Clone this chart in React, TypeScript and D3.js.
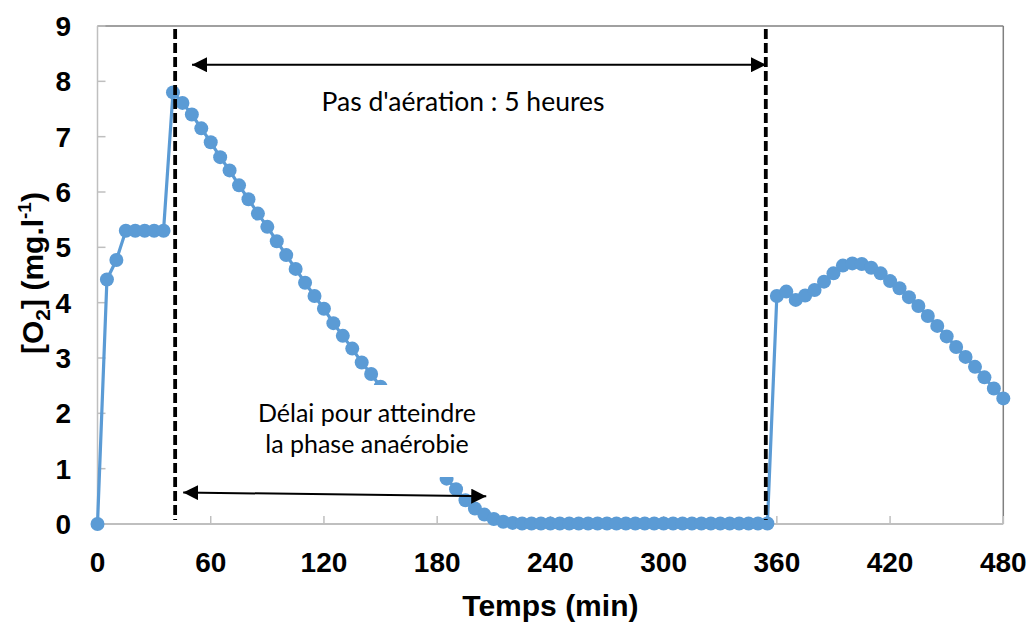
import React from "react";
import * as d3 from "d3";

const times: number[] = [
  0, 5, 10, 15, 20, 25, 30, 35, 40, 45, 50, 55, 60, 65, 70, 75, 80, 85, 90, 95,
  100, 105, 110, 115, 120, 125, 130, 135, 140, 145, 150, 155, 160, 165, 170, 175, 180, 185, 190, 195,
  200, 205, 210, 215, 220, 225, 230, 235, 240, 245, 250, 255, 260, 265, 270, 275, 280, 285, 290, 295,
  300, 305, 310, 315, 320, 325, 330, 335, 340, 345, 350, 355, 360, 365, 370, 375, 380, 385, 390, 395,
  400, 405, 410, 415, 420, 425, 430, 435, 440, 445, 450, 455, 460, 465, 470, 475, 480,
];

const o2: number[] = [
  0, 4.42, 4.77, 5.3, 5.3, 5.3, 5.3, 5.3, 7.8, 7.61, 7.4, 7.15, 6.9, 6.63, 6.39, 6.12, 5.87, 5.61, 5.37, 5.11,
  4.86, 4.61, 4.36, 4.12, 3.89, 3.63, 3.4, 3.17, 2.92, 2.71, 2.48, 2.24, 2.0, 1.76, 1.52, 1.28, 1.04, 0.82, 0.63, 0.43,
  0.28, 0.17, 0.09, 0.04, 0.02, 0.01, 0.01, 0.01, 0.01, 0.01, 0.01, 0.01, 0.01, 0.01, 0.01, 0.01, 0.01, 0.01, 0.01, 0.01,
  0.01, 0.01, 0.01, 0.01, 0.01, 0.01, 0.01, 0.01, 0.01, 0.01, 0.01, 0.01, 4.12, 4.2, 4.05, 4.13, 4.23, 4.38, 4.53, 4.67,
  4.71, 4.7, 4.63, 4.53, 4.39, 4.26, 4.1, 3.94, 3.76, 3.58, 3.39, 3.2, 3.02, 2.84, 2.65, 2.45, 2.27,
];

const xTicks: number[] = [0, 60, 120, 180, 240, 300, 360, 420, 480];
const yTicks: number[] = [0, 1, 2, 3, 4, 5, 6, 7, 8, 9];

// annotation positions in data units
const aerationStart = 43;
const aerationEnd = 356;
const topArrowY = 8.3;
const bottomArrowFrom = { t: 47, v: 0.57 };
const bottomArrowTo = { t: 206, v: 0.5 };

const W = 1032;
const H = 622;
const L = 97.5, R = 1003.3, T = 26, B = 524;

export default function App() {
  const x = d3.scaleLinear().domain([0, 480]).range([L, R]);
  const y = d3.scaleLinear().domain([0, 9]).range([B, T]);
  const pts = times.map((t, i) => [t, o2[i]] as [number, number]);
  const line = d3.line<[number, number]>().x((d) => x(d[0])).y((d) => y(d[1]));
  const axisFont = "Arial, 'Liberation Sans', sans-serif";
  const noteFont = "Lato, 'Open Sans', sans-serif";
  const blue = "#5b9bd5";

  return (
    <svg
      width={W}
      height={H}
      style={{ position: "absolute", left: 0, top: 0, background: "#fff" }}
    >
      <defs>
        <marker id="ah" viewBox="0 0 10 10" refX="10" refY="5" markerWidth="7.5" markerHeight="7.5" markerUnits="strokeWidth" orient="auto-start-reverse">
          <path d="M0,0 L10,5 L0,10 z" fill="#000" />
        </marker>
      </defs>
      <rect x={0} y={0} width={W} height={H} fill="#fff" />
      {/* plot frame */}
      <line x1={L} x2={R} y1={T} y2={T} stroke="#808080" strokeWidth={1.5} />
      <line x1={R} x2={R} y1={T} y2={B} stroke="#808080" strokeWidth={1.5} />
      <line x1={L} x2={L} y1={T} y2={B} stroke="#bfbfbf" strokeWidth={1.5} />
      <line x1={L} x2={R} y1={B} y2={B} stroke="#bfbfbf" strokeWidth={2} />
      {yTicks.map((v) => (
        <line key={"yt" + v} x1={L} x2={L + 8} y1={y(v)} y2={y(v)} stroke="#bfbfbf" strokeWidth={1.5} />
      ))}
      {xTicks.map((v) => (
        <line key={"xt" + v} x1={x(v)} x2={x(v)} y1={B} y2={B - 8} stroke="#bfbfbf" strokeWidth={1.5} />
      ))}
      {yTicks.map((v) => (
        <text key={"yl" + v} x={71} y={y(v)} dy="0.36em" textAnchor="end" fontFamily={axisFont} fontWeight="bold" fontSize={28} fill="#000">
          {v}
        </text>
      ))}
      {xTicks.map((v) => (
        <text key={"xl" + v} x={x(v)} y={572} textAnchor="middle" fontFamily={axisFont} fontWeight="bold" fontSize={28} fill="#000">
          {v}
        </text>
      ))}
      <text x={(L + R) / 2} y={616} textAnchor="middle" fontFamily={axisFont} fontWeight="bold" fontSize={30} fill="#000">
        Temps (min)
      </text>
      <text transform={`translate(43,${(T + B) / 2 - 2}) rotate(-90)`} textAnchor="middle" fontFamily={axisFont} fontWeight="bold" fontSize={30} fill="#000">
        [O<tspan dy="7" fontSize={21}>2</tspan><tspan dy="-7">] (mg.l</tspan><tspan dy="-12" fontSize={19}>-1</tspan><tspan dy="12">)</tspan>
      </text>

      {/* data */}
      <path d={line(pts) || ""} fill="none" stroke={blue} strokeWidth={3.2} />
      {pts.map((d, i) => (
        <circle key={"p" + i} cx={x(d[0])} cy={y(d[1])} r={7} fill={blue} />
      ))}

      {/* text box covering part of the series */}
      <rect x={250} y={385} width={235} height={92} fill="#fff" />
      <text x={367} y={422} textAnchor="middle" fontFamily={noteFont} fontSize={25} fill="#000">
        Délai pour atteindre
      </text>
      <text x={367} y={453} textAnchor="middle" fontFamily={noteFont} fontSize={25} fill="#000">
        la phase anaérobie
      </text>
      <text x={463} y={111} textAnchor="middle" fontFamily={noteFont} fontSize={26.5} fill="#000">
        Pas d'aération : 5 heures
      </text>

      {/* dashed lines */}
      <line x1={x(aerationStart) - 3.5} x2={x(aerationStart) - 3.5} y1={29} y2={520} stroke="#000" strokeWidth={3.8} strokeDasharray="10,4" />
      <line x1={x(aerationEnd) - 3.5} x2={x(aerationEnd) - 3.5} y1={29} y2={520} stroke="#000" strokeWidth={3.8} strokeDasharray="10,4" />

      {/* arrows */}
      <line x1={192} x2={766} y1={y(topArrowY)} y2={y(topArrowY)} stroke="#000" strokeWidth={2} markerStart="url(#ah)" markerEnd="url(#ah)" />
      <line x1={x(bottomArrowFrom.t) - 3} x2={x(bottomArrowTo.t) + 0} y1={y(bottomArrowFrom.v)} y2={y(bottomArrowTo.v)} stroke="#000" strokeWidth={2} markerStart="url(#ah)" markerEnd="url(#ah)" />
    </svg>
  );
}
